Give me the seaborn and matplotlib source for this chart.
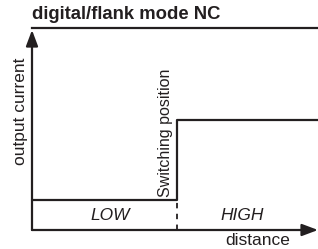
import matplotlib
matplotlib.use("Agg")
import matplotlib.pyplot as plt
import pandas as pd
import seaborn as sns

# step response of the sensor output (normalised units)
distance = [0.0, 0.507, 0.507, 1.0]
current = [0.148, 0.148, 0.547, 0.547]
switch_pos = 0.507
max_current = 1.0

title = "digital/flank mode NC"
zone_labels = ["LOW", "HIGH"]
zone_centers = [0.273, 0.734]

sns.set_theme(style="white")
plt.rcParams['font.family'] = ['Liberation Sans', 'DejaVu Sans']
ink = '#231f20'

fig = plt.figure(figsize=(3.18, 2.49), dpi=100)
ax = fig.add_axes([32 / 318, 19 / 249, 286 / 318, 202 / 249])
ax.set_xlim(0, 1)
ax.set_ylim(0, 1)
ax.axis('off')

df = pd.DataFrame({'distance': distance, 'current': current})
sns.lineplot(data=df, x='distance', y='current', sort=False, estimator=None,
             color=ink, linewidth=1.6, ax=ax, clip_on=False)

# top line (max current)
ax.plot([0, 1], [max_current, max_current], color=ink, lw=1.6, clip_on=False,
        solid_capstyle='projecting')

# axes with arrows
ax.annotate('', xy=(0, 0.99), xytext=(0, 0),
            arrowprops=dict(arrowstyle='-|>,head_length=0.8,head_width=0.3',
                            color=ink, lw=1.6, shrinkA=0, shrinkB=0))
ax.annotate('', xy=(1.0, 0), xytext=(0, 0),
            arrowprops=dict(arrowstyle='-|>,head_length=0.8,head_width=0.3',
                            color=ink, lw=1.6, shrinkA=0, shrinkB=0))

# dashed switching line
ax.plot([switch_pos, switch_pos], [0, current[0]], color=ink, lw=1.3,
        linestyle=(0, (3, 3)))

for lab, xc in zip(zone_labels, zone_centers):
    ax.text(xc, 0.07, lab, style='italic', fontsize=12.5, ha='center', va='center',
            color=ink)

ax.text(0.79, -0.05, 'distance', fontsize=12.5, ha='center', va='center', color=ink)
ax.text(-0.04, 0.59, 'output current', fontsize=12.5, rotation=90, ha='center',
        va='center', color=ink)
ax.text(switch_pos - 0.04, current[0] + 0.015, 'Switching position', fontsize=11.5,
        rotation=90, ha='center', va='bottom', color=ink)
ax.text(0.0, 1.065, title, fontsize=13.3, fontweight='bold', ha='left', va='center',
        color=ink)

fig.savefig('out.png', dpi=100)
